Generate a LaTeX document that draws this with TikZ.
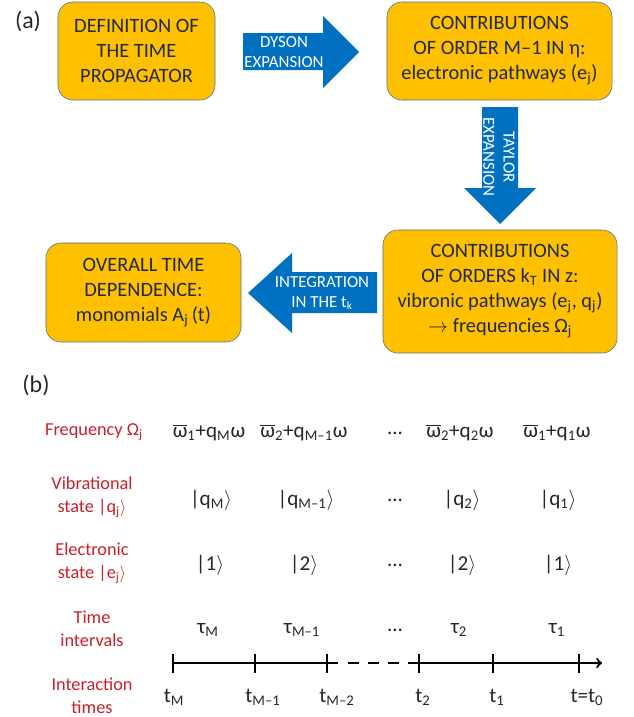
\documentclass[tikz,border=0pt]{standalone}
\usepackage{fontspec}
\setmainfont{Carlito}
\usetikzlibrary{positioning}
\definecolor{boxgold}{RGB}{255,192,0}
\definecolor{boxline}{RGB}{84,110,145}
\definecolor{boxtext}{RGB}{32,42,72}
\definecolor{arrowblue}{RGB}{0,112,192}
\definecolor{rowred}{RGB}{200,32,40}
\newcommand{\wbar}{$\overline{\mbox{ω}}$}
\newcommand{\kt}[1]{|#1$\rangle$}
\tikzset{
  gbox/.style={draw=boxline, fill=boxgold, rounded corners=0.375cm, text=boxtext, align=center, inner sep=0pt, font=\fontsize{14.5}{17.8}\selectfont},
  arrtext/.style={text=white, align=center, inner sep=0pt, font=\fontsize{12}{14.4}\selectfont},
  rowlabel/.style={text=rowred, align=center, inner sep=0pt, font=\fontsize{13}{16.4}\selectfont},
  rowval/.style={text=black!85, inner sep=0pt, font=\fontsize{15}{17}\selectfont},
  axis/.style={line width=1.6pt},
}
\begin{document}
\begin{tikzpicture}[x=0.025cm, y=-0.025cm]
    \useasboundingbox (0,0) rectangle (633,717);
    %(a)
    \node[text=black!85, font=\fontsize{17}{20}\selectfont] (pa) at (28,21) {(a)};
    %Boxes
    \node[gbox, minimum width=3.925cm, minimum height=2.45cm] (def) at (136.5,51) {DEFINITION OF\\THE TIME\\PROPAGATOR};
    \node[gbox, minimum width=5.625cm, minimum height=2.45cm] (elec) at (499.5,51) {CONTRIBUTIONS\\OF ORDER M--1 IN η:\\electronic pathways (e\textsubscript{j})};
    \node[gbox, minimum width=5.85cm, minimum height=3.075cm] (vibr) at (500,291.5) {CONTRIBUTIONS\\OF ORDERS k\textsubscript{T} IN z:\\vibronic pathways (e\textsubscript{j}, q\textsubscript{j})\\$\rightarrow$ frequencies Ω\textsubscript{j}};
    \node[gbox, minimum width=4.875cm, minimum height=2.475cm] (over) at (143.5,292.5) {OVERALL TIME\\DEPENDENCE:\\monomials A\textsubscript{j}\,(t)};
    %Block arrows
    \fill[arrowblue] (243,33) -- (323,33) -- (323,16) -- (359,52) -- (323,88) -- (323,70) -- (243,70) -- cycle;
    \node[arrtext] (dyson) at (284,52) {DYSON\\EXPANSION};
    \fill[arrowblue] (482,107) -- (518,107) -- (518,188) -- (536,188) -- (500,224) -- (464,188) -- (482,188) -- cycle;
    \node[arrtext, rotate=-90] (taylor) at (499,157) {TAYLOR\\EXPANSION};
    \fill[arrowblue] (377,272) -- (292,272) -- (292,253) -- (248,293) -- (292,333) -- (292,313) -- (377,313) -- cycle;
    \node[arrtext] (integ) at (322,293) {INTEGRATION\\IN THE t\textsubscript{k}};
    %(b)
    \node[text=black!85, font=\fontsize{17}{20}\selectfont] (pb) at (36,385) {(b)};
    %Row labels
    \node[rowlabel] (lfreq) at (94,432) {Frequency Ω\textsubscript{j}};
    \node[rowlabel] (lvib) at (92,497) {Vibrational\\state \kt{q\textsubscript{j}}};
    \node[rowlabel] (lel) at (92,563) {Electronic\\state \kt{e\textsubscript{j}}};
    \node[rowlabel] (ltau) at (92,629) {Time\\intervals};
    \node[rowlabel] (lint) at (92,696) {Interaction\\times};
    %Frequencies
    \node[rowval] (fM) at (209,433) {\wbar\textsubscript{1}+q\textsubscript{M}ω};
    \node[rowval] (fMa) at (304,433) {\wbar\textsubscript{2}+q\textsubscript{M--1}ω};
    \node[rowval] (fdots) at (395,433) {...};
    \node[rowval] (f2) at (460,433) {\wbar\textsubscript{2}+q\textsubscript{2}ω};
    \node[rowval] (f1) at (557,433) {\wbar\textsubscript{1}+q\textsubscript{1}ω};
    %Vibrational states
    \node[rowval] (qM) at (211,500) {\kt{q\textsubscript{M}}};
    \node[rowval] (qMa) at (306,500) {\kt{q\textsubscript{M--1}}};
    \node[rowval] (qdots) at (395,500) {...};
    \node[rowval] (q2) at (462,500) {\kt{q\textsubscript{2}}};
    \node[rowval] (q1) at (558,500) {\kt{q\textsubscript{1}}};
    %Electronic states
    \node[rowval] (eM) at (210,565) {\kt{1}};
    \node[rowval] (eMa) at (304,565) {\kt{2}};
    \node[rowval] (edots) at (395,565) {...};
    \node[rowval] (e2) at (462,565) {\kt{2}};
    \node[rowval] (e1) at (558,565) {\kt{1}};
    %Intervals
    \node[rowval] (tauM) at (208,630) {τ\textsubscript{M}};
    \node[rowval] (tauMa) at (302,630) {τ\textsubscript{M--1}};
    \node[rowval] (taudots) at (395,630) {...};
    \node[rowval] (tau2) at (459,630) {τ\textsubscript{2}};
    \node[rowval] (tau1) at (557,630) {τ\textsubscript{1}};
    %Time axis
    \coordinate (tM) at (173,663);
    \coordinate (tMa) at (255,663);
    \coordinate (tMb) at (327,663);
    \coordinate (t2) at (419,663);
    \coordinate (t1) at (493,663);
    \coordinate (t0) at (579,663);
    \coordinate (tend) at (602,663);
    \draw[axis] (tM) -- (338,663);
    \draw[axis, dash pattern=on 7.8pt off 6.4pt] (348,663) -- (400,663);
    \draw[axis, ->] (408,663) -- (tend);
    \foreach \p in {tM,tMa,tMb,t2,t1,t0}
        \draw[axis] (\p) +(0,-9.5) -- +(0,9.5);
    %Interaction times
    \node[rowval] (lbM) at (174,697) {t\textsubscript{M}};
    \node[rowval] (lbMa) at (263,697) {t\textsubscript{M--1}};
    \node[rowval] (lbMb) at (337,697) {t\textsubscript{M--2}};
    \node[rowval] (lb2) at (423,697) {t\textsubscript{2}};
    \node[rowval] (lb1) at (497,697) {t\textsubscript{1}};
    \node[rowval] (lb0) at (587,697) {t=t\textsubscript{0}};
\end{tikzpicture}
\end{document}
